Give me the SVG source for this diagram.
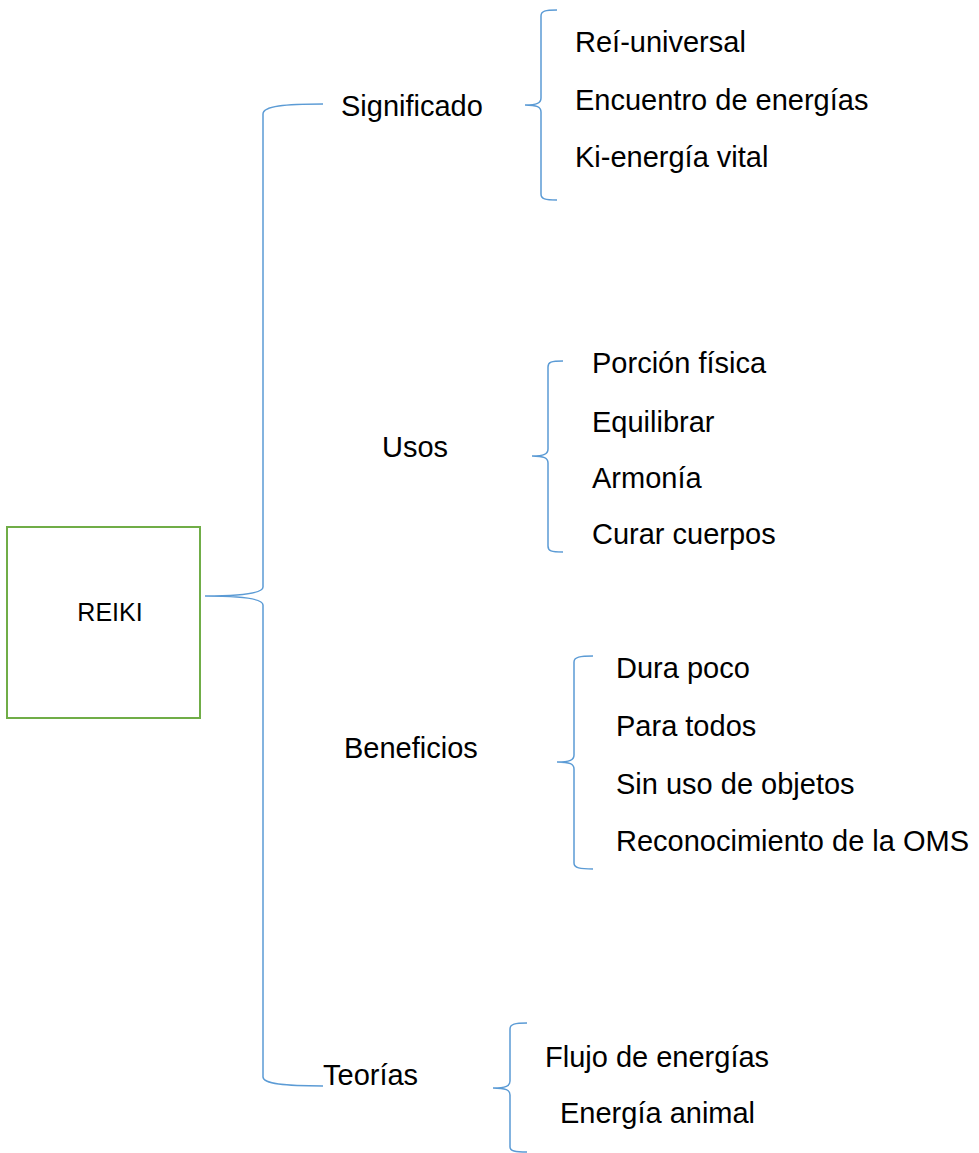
<svg xmlns="http://www.w3.org/2000/svg" width="979" height="1153" viewBox="0 0 979 1153">
<style>
.b{fill:none;stroke:#5B9BD5;stroke-width:1.5}
.t{font-family:"Liberation Sans",Arial,sans-serif;font-size:29px;fill:#000}
.r{font-family:"Liberation Sans",Arial,sans-serif;font-size:25px;fill:#000}
</style>
<rect width="979" height="1153" fill="#fff"/>
<g id="connectors">
<path class="b" d="M323,104 C285,104 263,106 263,114 L263,587 C263,593 245,596 205,596 C245,596 263,599 263,605 L263,1077 C263,1084 285,1086 323,1086"/>
<path class="b" d="M557,10 C545,10 541,11 541,16 L541,98 C541,103 537,105 525,105 C537,105 541,107 541,112 L541,194 C541,199 545,200 557,200"/>
<path class="b" d="M563,361 C551,361 548,362 548,367 L548,449 C548,454 544,456 532,456 C544,456 548,458 548,463 L548,546 C548,551 551,552 563,552"/>
<path class="b" d="M593,656 C580,656 574,657 574,662 L574,755 C574,760 570,762 557,762 C570,762 574,764 574,769 L574,863 C574,868 580,869 593,869"/>
<path class="b" d="M527,1023 C515,1023 510,1024 510,1029 L510,1081 C510,1086 506,1088 493,1088 C506,1088 510,1090 510,1095 L510,1147 C510,1151 515,1152 527,1152"/>
</g>
<g id="reiki">
<rect x="7" y="527" width="193" height="191" fill="none" stroke="#70AD47" stroke-width="2"/>
<text class="r" x="110" y="621" text-anchor="middle">REIKI</text>
</g>
<g id="significado"><text class="t" x="341" y="116">Significado</text></g>
<g id="significado-items">
<text class="t" x="575" y="52">Reí-universal</text>
<text class="t" x="575" y="110">Encuentro de energías</text>
<text class="t" x="575" y="167">Ki-energía vital</text>
</g>
<g id="usos"><text class="t" x="382" y="457">Usos</text></g>
<g id="usos-items">
<text class="t" x="592" y="373">Porción física</text>
<text class="t" x="592" y="432">Equilibrar</text>
<text class="t" x="592" y="488">Armonía</text>
<text class="t" x="592" y="544">Curar cuerpos</text>
</g>
<g id="beneficios"><text class="t" x="344" y="758">Beneficios</text></g>
<g id="beneficios-items">
<text class="t" x="616" y="678">Dura poco</text>
<text class="t" x="616" y="736">Para todos</text>
<text class="t" x="616" y="794">Sin uso de objetos</text>
<text class="t" x="616" y="851">Reconocimiento de la OMS</text>
</g>
<g id="teorias"><text class="t" x="323" y="1085">Teorías</text></g>
<g id="teorias-items">
<text class="t" x="545" y="1067">Flujo de energías</text>
<text class="t" x="560" y="1123">Energía animal</text>
</g>
</svg>
